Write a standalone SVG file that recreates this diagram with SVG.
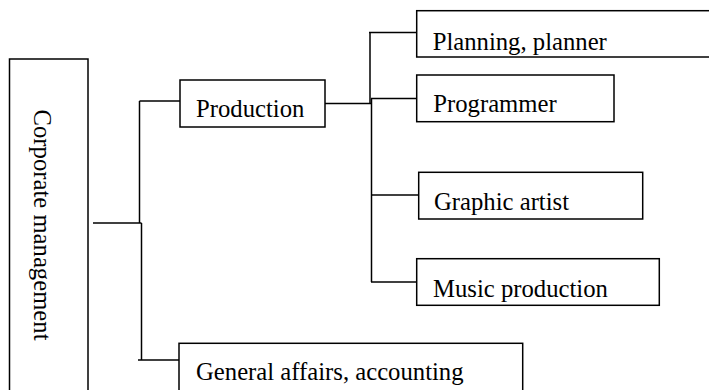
<svg xmlns="http://www.w3.org/2000/svg" width="709" height="390" viewBox="0 0 709 390">
  <style>
    .box { fill: #ffffff; stroke: #000000; stroke-width: 1.5; }
    .lbl { font-family: "Liberation Serif", "Times New Roman", serif; font-size: 24.7px; fill: #000000; }
    .wire { fill: none; stroke: #000000; stroke-width: 1.5; }
  </style>
  <rect x="0" y="0" width="709" height="390" fill="#ffffff"/>

  <g id="connectors">
    <path class="wire" d="M93 223 H141.5"/>
    <path class="wire" d="M139.5 101 V223"/>
    <path class="wire" d="M141.5 223 V360"/>
    <path class="wire" d="M139.5 101 H180"/>
    <path class="wire" d="M138 360 H179"/>
    <path class="wire" d="M325 103.5 H371.5"/>
    <path class="wire" d="M370 33 V103.5"/>
    <path class="wire" d="M371.5 98.5 V282"/>
    <path class="wire" d="M369 32.5 H416.7"/>
    <path class="wire" d="M371 98.5 H416.7"/>
    <path class="wire" d="M371 195 H418.7"/>
    <path class="wire" d="M371 282 H416.7"/>
  </g>

  <g id="corporate-management">
    <rect class="box" x="9.5" y="59" width="78.5" height="345"/>
    <text class="lbl" transform="translate(34 225) rotate(90)" text-anchor="middle">Corporate management</text>
  </g>

  <g id="production">
    <rect class="box" x="180" y="80" width="145" height="47"/>
    <text class="lbl" x="196" y="117">Production</text>
  </g>

  <g id="planning">
    <rect class="box" x="416.7" y="10.7" width="300" height="46.3"/>
    <text class="lbl" x="432.7" y="50">Planning, planner</text>
  </g>

  <g id="programmer">
    <rect class="box" x="416.7" y="75" width="197.3" height="46.7"/>
    <text class="lbl" x="433.3" y="111.7">Programmer</text>
  </g>

  <g id="graphic-artist">
    <rect class="box" x="418.7" y="172.3" width="224" height="46.7"/>
    <text class="lbl" x="434" y="210">Graphic artist</text>
  </g>

  <g id="music-production">
    <rect class="box" x="416.7" y="258.7" width="242.6" height="46.6"/>
    <text class="lbl" x="433" y="296.7">Music production</text>
  </g>

  <g id="general-affairs">
    <rect class="box" x="179" y="343.3" width="343.7" height="60"/>
    <text class="lbl" x="196" y="380">General affairs, accounting</text>
  </g>
</svg>
